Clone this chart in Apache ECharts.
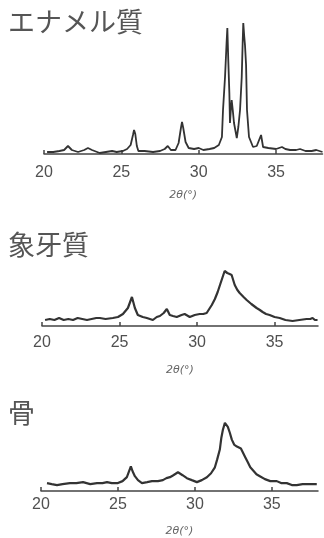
<!DOCTYPE html>
<html><head><meta charset="utf-8">
<script src="https://cdn.jsdelivr.net/npm/echarts@6/dist/echarts.min.js"></script>
<style>html,body{margin:0;padding:0;background:#fff}#c{width:324px;height:538px}</style>
</head><body><div id="c"></div>
<script>
const titles = ['エナメル質', '象牙質', '骨'];
const xTickValues = [20, 25, 30, 35];
const axisName = '2θ(°)';

const enamelX = [20.2,20.6,21.0,21.3,21.55,21.8,22.2,22.6,22.84,23.1,23.6,24.0,24.4,24.7,25.1,25.37,25.6,25.75,25.82,25.9,26.0,26.1,26.5,27.05,27.5,27.8,28.0,28.2,28.5,28.7,28.85,28.92,29.0,29.15,29.35,29.7,30.0,30.3,30.7,31.0,31.3,31.5,31.57,31.7,31.8,31.85,31.91,31.98,32.02,32.08,32.13,32.2,32.28,32.46,32.56,32.67,32.78,32.84,32.88,32.94,32.99,33.06,33.12,33.25,33.51,33.75,33.86,34.03,34.16,34.5,35.0,35.38,35.6,35.9,36.3,36.55,36.9,37.3,37.6,38.0];
const enamelY = [2,2,3,4,8,4,2,4,6,4,1,2,3,2,3,5,9,19,24,20,8,3,3,2,3,5,8,4,4,11,26,32,26,12,6,5,6,4,5,6,9,17,44,77,111,126,94,61,31,45,54,44,31,16,27,44,77,111,131,118,109,89,44,17,7,8,9,19,7,6,5,7,5,4,4,5,3,3,4,2];

const dentinX = [20.2,20.5,20.8,21.1,21.4,21.7,22.0,22.3,22.6,22.9,23.2,23.5,23.73,24.1,24.57,24.9,25.22,25.54,25.8,25.99,26.18,26.5,26.76,27.15,27.4,27.6,27.85,28.05,28.24,28.45,28.69,29.0,29.2,29.53,29.85,30.17,30.4,30.62,30.95,31.15,31.33,31.5,31.65,31.78,31.85,31.95,32.1,32.23,32.43,32.6,32.75,33.0,33.2,33.5,33.84,34.05,34.23,34.45,34.68,35.0,35.33,35.7,36.16,36.6,37.06,37.3,37.45,37.6,37.77];
const dentinY = [6,7,6,8,6,7,6,8,7,6,7,8,8,7,8,9,12,18,29,18,11,9,8,6,9,10,13,17,11,10,9,11,12,9,11,12,12,13,21,27,34,42,49,55,57,53,52,51,41,36,33,29,26,22,18,16,14,12,11,9,8,6,5,6,7,7,8,6,6];

const boneX = [20.39,20.7,21.04,21.4,21.88,22.3,22.73,23.2,23.64,24.0,24.29,24.6,25.0,25.3,25.58,25.84,25.95,26.1,26.3,26.56,26.9,27.21,27.6,27.92,28.15,28.38,28.6,28.9,29.2,29.48,29.8,30.13,30.45,30.78,31.05,31.3,31.45,31.62,31.72,31.82,31.95,32.05,32.14,32.27,32.4,32.55,32.73,32.85,32.99,33.12,33.28,33.44,33.6,33.83,34.0,34.22,34.55,34.9,35.32,35.6,35.97,36.3,36.62,37.0,37.3,37.66,37.92];
const boneY = [8,7,6,7,8,8,9,7,8,8,9,8,8,10,14,25,20,15,11,8,9,10,10,11,13,14,16,19,16,13,11,9,11,14,18,24,32,42,54,62,69,67,65,59,52,47,45,44,43,39,34,29,24,20,17,15,12,10,10,8,8,6,6,7,7,7,7];

function pairs(xs, ys){ return xs.map((x,i)=>[x, ys[i]]); }

const chart = echarts.init(document.getElementById('c'), null, {renderer:'canvas'});
const textColor = '#505050';
const lineColor = '#333';
const panels = [
  {left:44, right:1.5, top:14, height:140, xmax:38, ymax:140, margin:11, gap:36, titleTop:8, lw:1.8},
  {left:42, right:6, top:256, height:70, xmax:37.8, ymax:70, margin:9, gap:39, titleTop:231, lw:2.2},
  {left:41, right:6, top:412, height:80, xmax:38, ymax:80, margin:6, gap:35, titleTop:399, lw:2.2}
];
const dataSets = [pairs(enamelX, enamelY), pairs(dentinX, dentinY), pairs(boneX, boneY)];

chart.setOption({
  backgroundColor:'#ffffff',
  animation:false,
  title: panels.map((p,i)=>({
    text: titles[i], left: 8, top: p.titleTop, padding:0,
    textStyle:{fontFamily:'Noto Sans CJK JP', fontSize:27, fontWeight:'normal', color:'#555'}
  })),
  grid: panels.map(p=>({left:p.left, right:p.right, top:p.top, height:p.height, containLabel:false})),
  xAxis: panels.map((p,i)=>({
    type:'value', gridIndex:i, min:20, max:p.xmax, interval:5,
    name: axisName, nameLocation:'middle', nameGap:p.gap,
    nameTextStyle:{fontSize:11, color:'#666', fontFamily:'DejaVu Sans', fontStyle:'italic'},
    axisLine:{show:true, onZero:false, lineStyle:{color:'#444', width:1.5}},
    axisTick:{show:true, inside:true, length:4, customValues:xTickValues, lineStyle:{color:'#444', width:1.5}},
    axisLabel:{show:true, margin:p.margin, customValues:xTickValues, fontSize:16, color:textColor, fontFamily:'Liberation Sans Narrow, Liberation Sans, sans-serif'},
    splitLine:{show:false}
  })),
  yAxis: panels.map((p,i)=>({
    type:'value', gridIndex:i, min:0, max:p.ymax, show:false, splitLine:{show:false}
  })),
  series: dataSets.map((d,i)=>({
    type:'line', xAxisIndex:i, yAxisIndex:i, data:d, showSymbol:false, symbol:'none',
    lineStyle:{color:lineColor, width:panels[i].lw}, smooth:false
  }))
});
</script></body></html>
